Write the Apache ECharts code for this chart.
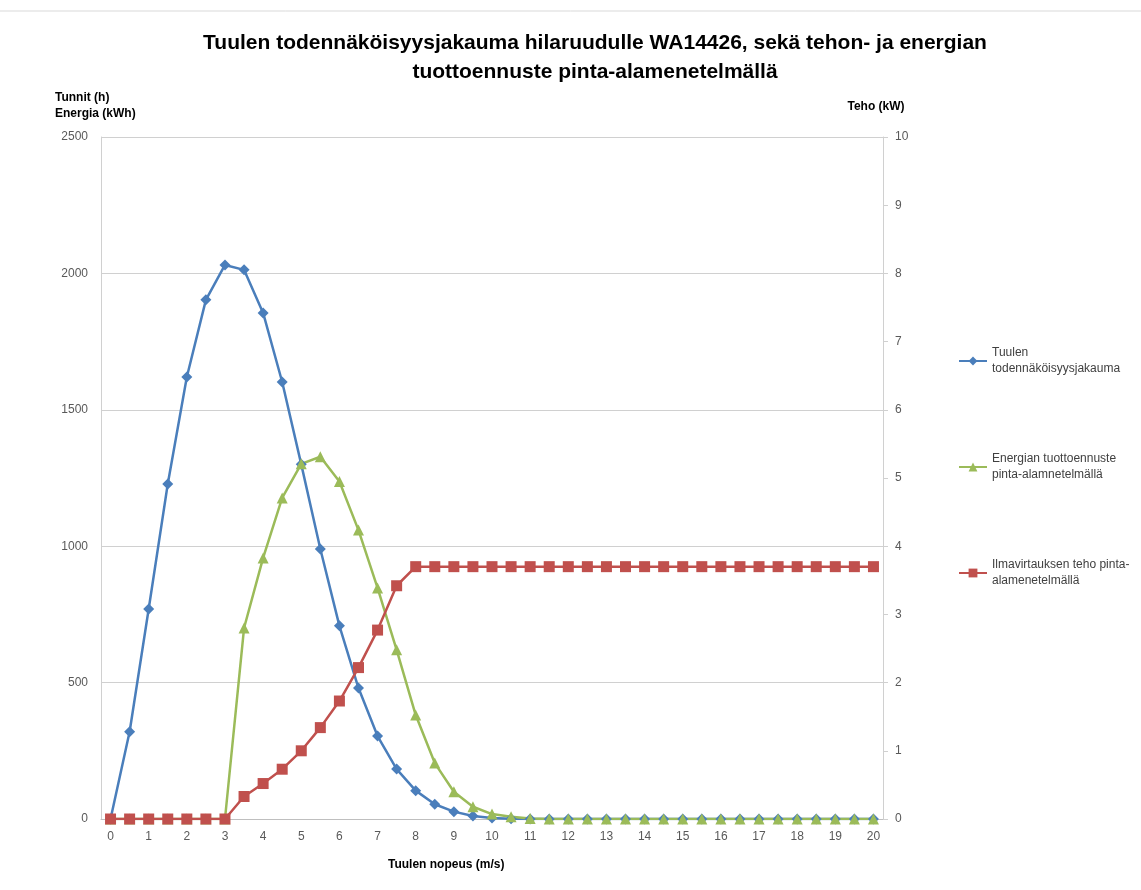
<!DOCTYPE html>
<html>
<head>
<meta charset="utf-8">
<script src="https://cdn.jsdelivr.net/npm/echarts@6/dist/echarts.min.js"></script>
<style>
  html, body { margin: 0; padding: 0; background: #fff; }
  #chart { width: 1141px; height: 890px; }
</style>
</head>
<body>
<div id="chart"></div>
<script>
// tuulen nopeus (m/s)
const speeds = [
  "0", "0.5", "1", "1.5", "2", "2.5", "3", "3.5", "4", "4.5",
  "5", "5.5", "6", "6.5", "7", "7.5", "8", "8.5", "9", "9.5",
  "10", "10.5", "11", "11.5", "12", "12.5", "13", "13.5", "14", "14.5",
  "15", "15.5", "16", "16.5", "17", "17.5", "18", "18.5", "19", "19.5", "20"
];

// tunnit (h)
const windHours = [
  0, 320, 770, 1228, 1620, 1903, 2031, 2013, 1855, 1602,
  1300, 990, 708, 480, 304, 183, 104, 54, 27, 11,
  4, 1, 0, 0, 0, 0, 0, 0, 0, 0,
  0, 0, 0, 0, 0, 0, 0, 0, 0, 0, 0
];

// energia (kWh)
const energy = [
  0, 0, 0, 0, 0, 0, 0, 700, 957, 1177,
  1302, 1328, 1237, 1059, 847, 620, 381, 205, 100, 45,
  18, 8, 2, 0, 0, 0, 0, 0, 0, 0,
  0, 0, 0, 0, 0, 0, 0, 0, 0, 0, 0
];

// teho (kW)
const power = [
  0, 0, 0, 0, 0, 0, 0, 0.33, 0.52, 0.73,
  1.0, 1.34, 1.73, 2.22, 2.77, 3.42, 3.7, 3.7, 3.7, 3.7,
  3.7, 3.7, 3.7, 3.7, 3.7, 3.7, 3.7, 3.7, 3.7, 3.7,
  3.7, 3.7, 3.7, 3.7, 3.7, 3.7, 3.7, 3.7, 3.7, 3.7, 3.7
];

const seriesNames = [
  "Tuulen todennäköisyysjakauma",
  "Energian tuottoennuste pinta-alamnetelmällä",
  "Ilmavirtauksen teho pinta-alamenetelmällä"
];
const legendLabels = {
  "Tuulen todennäköisyysjakauma": "Tuulen\ntodennäköisyysjakauma",
  "Energian tuottoennuste pinta-alamnetelmällä": "Energian tuottoennuste\npinta-alamnetelmällä",
  "Ilmavirtauksen teho pinta-alamenetelmällä": "Ilmavirtauksen teho pinta-\nalamenetelmällä"
};

const font = "Liberation Sans";
const labelStyle = { color: "#595959", fontSize: 12, fontFamily: font };

const option = {
  animation: false,
  backgroundColor: "#fff",
  title: {
    text: "Tuulen todennäköisyysjakauma hilaruudulle WA14426, sekä tehon- ja energian\ntuottoennuste pinta-alamenetelmällä",
    left: 590,
    top: 24,
    textAlign: "center",
    textStyle: {
      fontFamily: font,
      fontWeight: "bold",
      fontSize: 21,
      lineHeight: 29,
      color: "#000"
    }
  },
  legend: {
    orient: "vertical",
    left: 953,
    top: 340,
    itemGap: 74,
    itemWidth: 28,
    itemHeight: 11,
    data: seriesNames,
    formatter: (name) => legendLabels[name],
    textStyle: {
      color: "#404040",
      fontSize: 12,
      lineHeight: 16,
      fontFamily: font
    }
  },
  grid: {
    left: 101,
    right: 258,
    top: 137,
    bottom: 71
  },
  xAxis: {
    type: "category",
    data: speeds,
    boundaryGap: true,
    axisLine: { lineStyle: { color: "#bfbfbf", width: 1 } },
    axisTick: { show: false },
    axisLabel: { ...labelStyle, interval: 1, margin: 12 }
  },
  yAxis: [
    {
      type: "value",
      min: 0,
      max: 2500,
      interval: 500,
      axisLine: { show: true, lineStyle: { color: "#d0d0d0" } },
      axisTick: { show: false },
      axisLabel: { ...labelStyle, margin: 13, formatter: (v) => String(v) },
      splitLine: { lineStyle: { color: "#d0d0d0", width: 1 } }
    },
    {
      type: "value",
      min: 0,
      max: 10,
      interval: 1,
      position: "right",
      name: "Teho (kW)",
      nameLocation: "end",
      nameGap: 24,
      nameTextStyle: {
        fontFamily: font,
        fontWeight: "bold",
        fontSize: 12,
        color: "#000",
        padding: [0, 14, 0, 0]
      },
      axisLine: { show: true, lineStyle: { color: "#d0d0d0" } },
      axisTick: { show: true, inside: false, length: 5, lineStyle: { color: "#d0d0d0" } },
      axisLabel: { ...labelStyle, margin: 12 },
      splitLine: { show: false }
    }
  ],
  graphic: [
    {
      type: "line",
      shape: { x1: 0, y1: 11, x2: 1141, y2: 11 },
      style: { stroke: "#d9d9d9", lineWidth: 1 }
    },
    {
      type: "text",
      left: 55,
      top: 90,
      style: {
        text: "Tunnit (h)\nEnergia (kWh)",
        fontFamily: font,
        fontWeight: "bold",
        fontSize: 12,
        lineHeight: 16,
        fill: "#000"
      }
    },
    {
      type: "text",
      left: 388,
      top: 859,
      style: {
        text: "Tuulen nopeus (m/s)",
        fontFamily: font,
        fontWeight: "bold",
        fontSize: 12,
        fill: "#000"
      }
    }
  ],
  series: [
    {
      name: seriesNames[0],
      type: "line",
      data: windHours,
      yAxisIndex: 0,
      symbol: "diamond",
      symbolSize: 11,
      color: "#4a7ebb",
      lineStyle: { width: 2.5, color: "#4a7ebb" },
      itemStyle: { color: "#4a7ebb" }
    },
    {
      name: seriesNames[1],
      type: "line",
      data: energy,
      yAxisIndex: 0,
      symbol: "triangle",
      symbolSize: 11,
      color: "#9bbb59",
      lineStyle: { width: 2.5, color: "#9bbb59" },
      itemStyle: { color: "#9bbb59" }
    },
    {
      name: seriesNames[2],
      type: "line",
      data: power,
      yAxisIndex: 1,
      symbol: "rect",
      symbolSize: 11,
      color: "#c0504d",
      lineStyle: { width: 2.5, color: "#c0504d" },
      itemStyle: { color: "#c0504d" }
    }
  ]
};

const chart = echarts.init(document.getElementById("chart"));
chart.setOption(option);
window.addEventListener("resize", () => {
  chart.resize();
});
</script>
</body>
</html>
